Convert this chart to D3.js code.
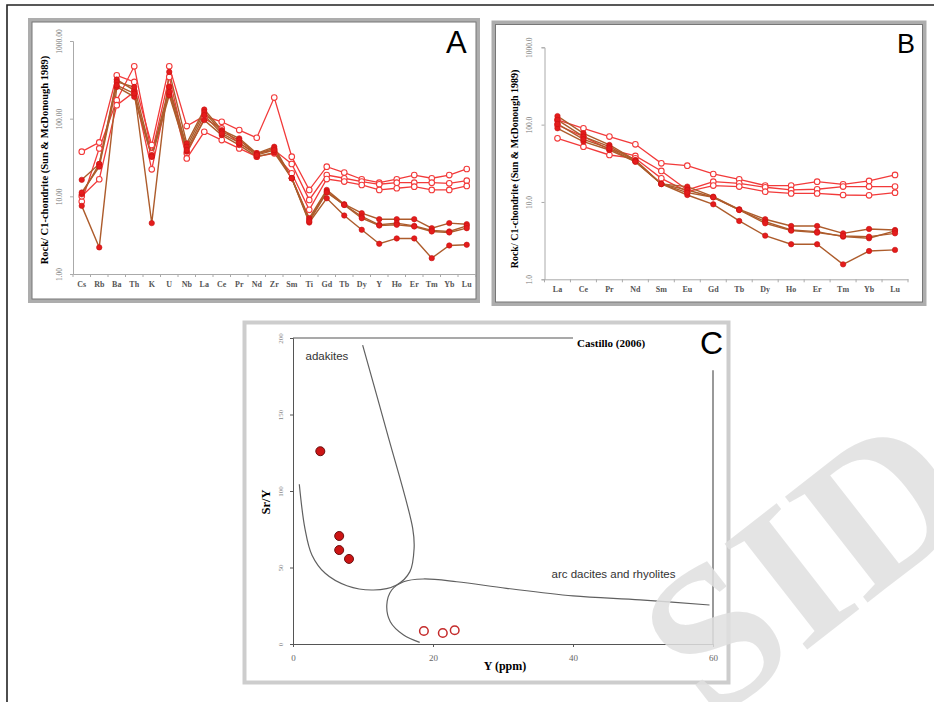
<!DOCTYPE html>
<html>
<head>
<meta charset="utf-8">
<script src="https://cdn.jsdelivr.net/npm/d3@7"></script>
<style>
  body { margin: 0; background: #fff; }
  svg { display: block; }
</style>
</head>
<body>
<svg id="fig" width="934" height="702"></svg>
<script>
// ---- Données ----

// A : diagramme multi-éléments
const elementsA = ["Cs","Rb","Ba","Th","K","U","Nb","La","Ce","Pr","Nd","Zr","Sm","Ti","Gd","Tb","Dy","Y","Ho","Er","Tm","Yb","Lu"];
const openA1 = [37.6,49.5,362,297,45.7,472,80.2,108,91.2,71.3,56.8,187,32.4,12.1,24.1,20.2,16.6,15.0,16.6,18.8,17.1,18.8,22.5];
const openA2 = [8.57,41.4,173,472,35.8,345,35.8,100,74.8,48.1,35.8,39.4,26.1,9.0,18.8,17.1,15.5,14.3,15.0,15.0,15.0,14.7,15.9];
const openA3 = [10.0,16.6,149,221,22.3,256,30.8,67.8,53.0,41.4,32.4,35.8,19.8,6.7,16.7,15.5,14.0,12.1,12.7,13.3,12.1,12.1,13.6];
const filledA1 = [7.54,2.20,256,191,32.4,200,37.6,95.8,61.5,45.7,32.4,36.5,17.1,4.60,9.45,5.66,3.71,2.45,2.87,2.87,1.60,2.33,2.38];
const filledA2 = [10.6,26.1,319,232,4.52,400,48.1,131,71.3,55.7,35.8,43.5,17.1,5.23,12.1,7.92,6.07,5.08,5.08,5.08,3.89,4.52,4.38];
const filledA3 = [16.3,26.1,297,256,34.0,256,43.5,122,67.8,53.0,35.1,41.4,17.1,4.98,11.5,7.76,5.50,4.30,4.52,4.17,3.64,3.53,4.17];
const filledA4 = [11.2,24.1,269,211,32.4,221,39.4,111,64.6,49.0,34.0,39.4,17.1,4.75,11.2,7.76,5.23,4.21,4.30,4.09,3.53,3.43,3.89];

// B : terres rares
const elementsB = ["La","Ce","Pr","Nd","Sm","Eu","Gd","Tb","Dy","Ho","Er","Tm","Yb","Lu"];
const openB1 = [115,89.7,70.0,55.7,31.6,29.5,23.0,19.6,16.3,16.3,18.3,16.9,18.7,22.4];
const openB2 = [99,70.0,48.0,39.4,25.2,14.3,18.3,17.4,15.5,14.3,14.6,15.8,15.8,15.8];
const openB3 = [66.6,51.9,40.5,36.7,20.2,13.6,16.3,15.8,13.6,12.9,12.9,12.3,12.2,13.2];
const filledB1 = [89.7,60.3,47.0,33.2,17.1,12.3,9.33,5.68,3.67,2.84,2.84,1.56,2.32,2.40];
const filledB2 = [129,77.3,54.6,34.9,17.1,15.8,11.7,8.04,5.97,4.89,4.89,3.93,4.48,4.34];
const filledB3 = [115,70.0,51.9,34.2,17.1,14.3,11.5,7.88,5.57,4.34,4.13,3.56,3.39,4.22];
const filledB4 = [102,64.6,49.4,33.2,17.1,13.2,11.5,7.88,5.30,4.26,4.01,3.63,3.56,3.93];

const tickLabelsA = ["1.00","10.00","100.00","1000.00"];
const tickLabelsB = ["1.0","10.0","100.0","1000.0"];
const logTicks = [1, 10, 100, 1000];

// C : Sr/Y vs Y (Castillo 2006)
const adakiteField = [[9.95,195.4],[13.4,138.8],[17.1,75.6],[17.3,62.5],[16.7,47.3],[14.8,38.6],[11.5,35.3],[7.7,38.1],[4.6,46.2],[2.7,58.2],[1.7,75.6],[0.9,104.4]];
const arcField = [[59.5,25.5],[49.6,28.8],[40.0,31.4],[30.5,36.4],[23.4,40.7],[18.6,42.5],[15.8,40.7],[14.1,35.3],[13.4,25.5],[13.9,14.6],[15.8,5.9],[18.1,1.1]];
const adakiteSamples = [[3.9,126],[6.6,70.6],[6.6,61.4],[8.0,55.6]];
const arcSamples = [[18.7,8.5],[21.4,7.2],[23.1,9.0]];
const ticksCx = [0, 20, 40, 60];
const ticksCy = [0, 50, 100, 150, 200];

// ---- Styles ----
const SERIF = "'Liberation Serif','Times New Roman',serif";
const SANS = "'Liberation Sans',Arial,sans-serif";
const redLine = "#f23a3a";
const brownLine = "#ad5c2c";
const redFill = "#e41c1c";

const svg = d3.select("#fig");

// cadre noir extérieur
svg.append("path")
    .attr("d", "M7,702 V5 H934")
    .attr("fill", "none")
    .attr("stroke", "#222")
    .attr("stroke-width", 1.6);

function panelFrame(x, y, w, h, light) {
    svg.append("rect")
        .attr("x", x).attr("y", y).attr("width", w).attr("height", h)
        .attr("fill", "#fff")
        .attr("stroke", light ? "#cdcdcd" : "#adadad")
        .attr("stroke-width", 4);
    if (!light) {
        svg.append("rect")
            .attr("x", x + 2).attr("y", y + 2).attr("width", w - 4).attr("height", h - 4)
            .attr("fill", "none")
            .attr("stroke", "#777")
            .attr("stroke-width", 1);
    }
}

function drawSpider(cfg) {
    panelFrame(cfg.frame[0], cfg.frame[1], cfg.frame[2], cfg.frame[3], false);

    const x = d3.scaleBand().domain(cfg.elements).range([cfg.x0, cfg.x1]);
    const y = d3.scaleLog().domain([1, 1000]).range([cfg.yBottom, cfg.yTop]);
    const cx = d => x(d) + x.bandwidth() / 2;

    const g = svg.append("g");

    // axe Y
    const yAxis = g.append("g")
        .attr("transform", `translate(${cfg.x0},0)`)
        .call(d3.axisLeft(y).tickValues(logTicks).tickSize(3)
            .tickFormat((d, i) => cfg.tickLabels[i]));
    yAxis.select(".domain").attr("stroke", "#aaa");
    yAxis.selectAll(".tick line").attr("stroke", "#aaa");
    yAxis.selectAll("text")
        .attr("font-family", SERIF).attr("font-size", 7.5).attr("fill", "#777")
        .attr("text-anchor", "middle")
        .attr("x", 0).attr("dy", 0)
        .attr("transform", `translate(${-cfg.yLabelOff},0) rotate(-90)`);

    // axe X
    const xAxis = g.append("g")
        .attr("transform", `translate(0,${cfg.yBottom})`)
        .call(d3.axisBottom(x).tickSize(0).tickPadding(cfg.xLabelPad));
    xAxis.select(".domain").attr("stroke", "#aaa");
    xAxis.selectAll("text")
        .attr("font-family", SERIF).attr("font-size", 8).attr("fill", "#555")
        .attr("font-weight", "bold");
    g.append("g").selectAll("line")
        .data(cfg.elements.concat(["_end"]))
        .join("line")
        .attr("x1", (d, i) => cfg.x0 + i * x.bandwidth())
        .attr("x2", (d, i) => cfg.x0 + i * x.bandwidth())
        .attr("y1", cfg.yBottom).attr("y2", cfg.yBottom + 3)
        .attr("stroke", "#aaa");

    // titre Y
    g.append("text")
        .attr("transform", `translate(${cfg.titleX},${cfg.titleY}) rotate(-90)`)
        .attr("text-anchor", "middle")
        .attr("font-family", SERIF).attr("font-weight", "bold")
        .attr("font-size", cfg.titleSize)
        .text("Rock/ C1-chondrite (Sun & McDonough 1989)");

    // lettre du panneau
    g.append("text")
        .attr("x", cfg.letterX).attr("y", cfg.letterY)
        .attr("font-family", SANS).attr("font-size", cfg.letterSize)
        .text(cfg.letter);

    const line = d3.line()
        .x((d, i) => cx(cfg.elements[i]))
        .y(d => y(d));

    // séries à cercles vides
    cfg.open.forEach(s => {
        g.append("path").datum(s)
            .attr("d", line).attr("fill", "none")
            .attr("stroke", redLine).attr("stroke-width", 1.3);
    });
    cfg.filled.forEach(s => {
        g.append("path").datum(s)
            .attr("d", line).attr("fill", "none")
            .attr("stroke", brownLine).attr("stroke-width", 1.4);
    });
    cfg.open.forEach(s => {
        g.append("g").selectAll("circle").data(s).join("circle")
            .attr("cx", (d, i) => cx(cfg.elements[i]))
            .attr("cy", d => y(d))
            .attr("r", 2.8)
            .attr("fill", "#fff").attr("stroke", redLine).attr("stroke-width", 1.1);
    });
    cfg.filled.forEach(s => {
        g.append("g").selectAll("circle").data(s).join("circle")
            .attr("cx", (d, i) => cx(cfg.elements[i]))
            .attr("cy", d => y(d))
            .attr("r", 2.7)
            .attr("fill", redFill).attr("stroke", "#c81010").attr("stroke-width", 0.6);
    });
}

drawSpider({
    frame: [30, 20, 448, 281],
    elements: elementsA,
    x0: 73, x1: 475.5, yBottom: 274, yTop: 41,
    tickLabels: tickLabelsA, yLabelOff: 11,
    xLabelPad: 7,
    titleX: 48, titleY: 160, titleSize: 10.5,
    letter: "A", letterX: 446, letterY: 53, letterSize: 31,
    open: [openA1, openA2, openA3],
    filled: [filledA1, filledA2, filledA3, filledA4]
});

drawSpider({
    frame: [493.5, 22.5, 431, 281.5],
    elements: elementsB,
    x0: 544.5, x1: 908, yBottom: 279.3, yTop: 47.3,
    tickLabels: tickLabelsB, yLabelOff: 12.5,
    xLabelPad: 7,
    titleX: 518, titleY: 169, titleSize: 10,
    letter: "B", letterX: 897, letterY: 53, letterSize: 27,
    open: [openB1, openB2, openB3],
    filled: [filledB1, filledB2, filledB3, filledB4]
});

// ---- Panneau C ----
function drawCastillo() {
    panelFrame(244.5, 322.5, 484, 360, true);

    const x = d3.scaleLinear().domain([0, 60]).range([293, 713]);
    const y = d3.scaleLinear().domain([0, 200]).range([644, 338]);
    const g = svg.append("g");

    const yAxis = g.append("g")
        .attr("transform", `translate(${x(0)},0)`)
        .call(d3.axisLeft(y).tickValues(ticksCy).tickSize(3));
    yAxis.select(".domain").attr("stroke", "#555");
    yAxis.selectAll(".tick line").attr("stroke", "#555");
    yAxis.selectAll("text")
        .attr("font-family", SERIF).attr("font-size", 7).attr("fill", "#888")
        .attr("text-anchor", "middle").attr("x", 0).attr("dy", 0)
        .attr("transform", "translate(-10,0) rotate(-90)");

    const xAxis = g.append("g")
        .attr("transform", `translate(0,${y(0)})`)
        .call(d3.axisBottom(x).tickValues(ticksCx).tickSize(3).tickPadding(8));
    xAxis.select(".domain").attr("stroke", "#555");
    xAxis.selectAll(".tick line").attr("stroke", "#555");
    xAxis.selectAll("text")
        .attr("font-family", SERIF).attr("font-size", 9).attr("fill", "#666");

    // cadre de Castillo : ligne du haut et ligne de droite
    g.append("line")
        .attr("x1", x(0)).attr("x2", x(40)).attr("y1", y(200)).attr("y2", y(200))
        .attr("stroke", "#555").attr("stroke-width", 1.2);
    g.append("line")
        .attr("x1", x(60)).attr("x2", x(60)).attr("y1", y(179)).attr("y2", y(0))
        .attr("stroke", "#555").attr("stroke-width", 1.2);

    g.append("text")
        .attr("x", x(40) + 4).attr("y", y(200) + 8.5)
        .attr("font-family", SERIF).attr("font-weight", "bold").attr("font-size", 11)
        .text("Castillo (2006)");

    const curve = d3.line()
        .x(d => x(d[0])).y(d => y(d[1]))
        .curve(d3.curveCatmullRom.alpha(0.5));
    [adakiteField, arcField].forEach(f => {
        g.append("path").datum(f)
            .attr("d", curve).attr("fill", "none")
            .attr("stroke", "#606060").attr("stroke-width", 1.2);
    });

    g.append("text").attr("x", 305.5).attr("y", 360)
        .attr("font-family", SANS).attr("font-size", 11.5).attr("fill", "#333")
        .text("adakites");

    g.append("g").selectAll("circle").data(adakiteSamples).join("circle")
        .attr("cx", d => x(d[0])).attr("cy", d => y(d[1])).attr("r", 4.5)
        .attr("fill", "#cc1414").attr("stroke", "#6a1010").attr("stroke-width", 1);
    g.append("g").selectAll("circle").data(arcSamples).join("circle")
        .attr("cx", d => x(d[0])).attr("cy", d => y(d[1])).attr("r", 4.3)
        .attr("fill", "#fff").attr("stroke", "#c42a2a").attr("stroke-width", 1.5);

    g.append("text")
        .attr("x", (x(0) + x(60)) / 2 + 2).attr("y", 670)
        .attr("text-anchor", "middle")
        .attr("font-family", SERIF).attr("font-weight", "bold").attr("font-size", 12)
        .text("Y (ppm)");
    g.append("text")
        .attr("transform", "translate(270,502) rotate(-90)")
        .attr("text-anchor", "middle")
        .attr("font-family", SERIF).attr("font-weight", "bold").attr("font-size", 12.5)
        .text("Sr/Y");

    g.append("text")
        .attr("x", 700).attr("y", 354)
        .attr("font-family", SANS).attr("font-size", 32)
        .text("C");
}
drawCastillo();

// filigrane
svg.append("text")
    .attr("transform", "translate(712,724) rotate(-38)")
    .attr("font-family", SERIF).attr("font-weight", "bold")
    .attr("font-size", 205).attr("fill", "#e0e0e0").attr("opacity", 0.85)
    .text("SID");

// étiquette du champ d'arc, au-dessus du filigrane
svg.append("text").attr("x", 551.5).attr("y", 578)
    .attr("font-family", SANS).attr("font-size", 11.5).attr("fill", "#333")
    .text("arc dacites and rhyolites");
</script>
</body>
</html>
